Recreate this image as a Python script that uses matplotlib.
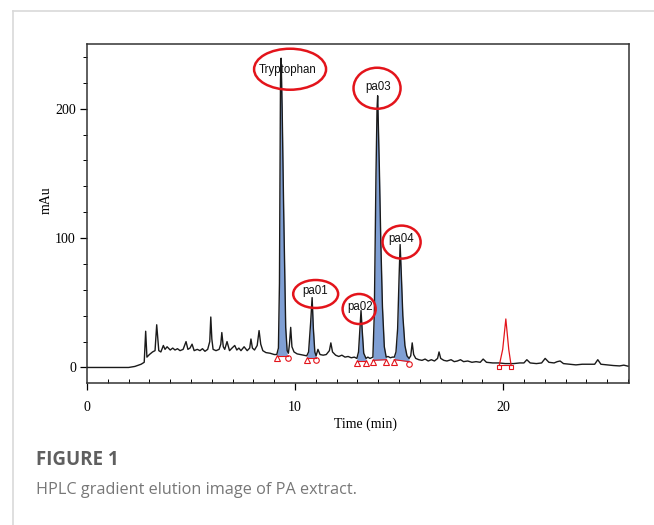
import matplotlib
matplotlib.use("Agg")
import matplotlib.pyplot as plt
from matplotlib.patches import Ellipse
from matplotlib.lines import Line2D
from matplotlib.ticker import MultipleLocator
import numpy as np

# chromatogram trace: (time min, mAu)
trace = [
    (0.0, 0), (2.0, 0), (2.3, 0.8), (2.6, 2.5), (2.75, 4), (2.82, 28), (2.88, 8),
    (3.0, 10), (3.15, 12), (3.27, 13), (3.35, 33), (3.45, 13), (3.55, 12), (3.67, 17),
    (3.75, 14), (3.85, 16), (4.0, 13.5), (4.12, 15), (4.23, 13.5), (4.35, 14.5),
    (4.47, 13), (4.62, 14), (4.76, 20), (4.85, 14), (4.95, 15), (5.05, 18), (5.15, 13),
    (5.3, 14), (5.43, 13), (5.55, 14.5), (5.67, 12.5), (5.8, 14), (5.9, 20), (5.95, 39),
    (6.0, 22), (6.06, 14), (6.2, 13), (6.35, 14), (6.43, 18), (6.48, 27), (6.55, 16),
    (6.62, 14), (6.73, 20), (6.85, 13), (6.97, 15), (7.1, 17), (7.2, 13.5), (7.3, 15),
    (7.4, 13), (7.55, 16), (7.7, 13), (7.82, 15), (7.88, 22), (7.95, 15), (8.05, 13.5),
    (8.18, 17), (8.27, 28.5), (8.35, 18), (8.45, 13), (8.6, 11.5), (8.8, 11), (9.0, 10),
    (9.12, 10), (9.2, 15), (9.25, 65), (9.3, 222), (9.33, 239), (9.38, 200), (9.45, 124),
    (9.55, 31), (9.62, 13), (9.68, 11), (9.73, 18), (9.79, 31), (9.85, 16), (9.95, 12),
    (10.1, 10.5), (10.25, 10), (10.4, 9.5), (10.56, 9), (10.65, 12), (10.75, 35),
    (10.82, 54), (10.88, 30), (10.95, 12), (11.01, 9), (11.1, 14), (11.2, 10),
    (11.35, 9.5), (11.5, 10), (11.65, 13), (11.72, 19), (11.8, 12), (11.95, 9.5),
    (12.1, 8.5), (12.25, 9.5), (12.4, 8), (12.55, 8.5), (12.7, 7.5), (12.85, 8),
    (12.97, 7), (13.05, 12), (13.12, 30), (13.17, 44), (13.23, 28), (13.3, 11),
    (13.41, 7), (13.5, 8), (13.6, 7), (13.74, 8), (13.81, 42), (13.89, 150),
    (13.94, 200), (13.97, 210), (14.05, 155), (14.12, 98), (14.2, 47), (14.29, 16),
    (14.38, 8), (14.47, 8.5), (14.58, 7.5), (14.68, 8), (14.77, 8), (14.85, 12),
    (14.93, 30), (15.0, 70), (15.05, 95), (15.1, 75), (15.18, 40), (15.28, 17),
    (15.38, 9), (15.48, 7), (15.56, 9), (15.63, 19), (15.7, 10), (15.8, 7), (15.95, 6),
    (16.1, 5.5), (16.25, 6.5), (16.4, 5), (16.55, 6), (16.7, 5), (16.85, 7), (16.92, 12),
    (17.0, 7), (17.15, 5.5), (17.3, 5), (17.5, 6), (17.65, 4.5), (17.8, 5), (17.95, 6),
    (18.1, 4.5), (18.3, 5), (18.5, 4), (18.7, 4.5), (18.9, 4), (19.04, 6.5), (19.2, 4),
    (19.5, 3.5), (19.8, 3.5), (20.1, 3), (20.5, 3), (20.8, 3.5), (21.0, 3.5),
    (21.14, 6), (21.3, 3.5), (21.6, 3), (21.85, 3.5), (22.02, 7), (22.2, 4),
    (22.45, 3.5), (22.6, 4.5), (22.74, 5), (22.9, 3), (23.2, 2.5), (23.5, 2),
    (23.8, 2.5), (24.1, 2.5), (24.4, 2.5), (24.55, 6), (24.7, 2.5), (25.0, 2),
    (25.3, 1.5), (25.6, 1.2), (25.8, 1.8), (26.0, 1),
]

# red (not integrated) peak
red_peak = [(19.82, 2), (19.98, 14), (20.13, 37.5), (20.27, 14), (20.38, 2)]

# integrated peaks: start, end, base at start, base at end, end marker
peak_names = ["Tryptophan", "pa01", "pa02", "pa03", "pa04"]
peak_start = [9.12, 10.56, 12.97, 13.74, 14.77]
peak_end = [9.66, 11.01, 13.41, 14.38, 15.48]
base_start = [9.0, 7.0, 5.0, 5.5, 6.0]
base_end = [9.0, 7.0, 5.0, 6.0, 4.5]
end_marker = ["o", "o", "^", "^", "o"]

# label ellipses: centre, width, height, text position
ell_center = [(9.76, 230.5), (10.99, 56.8), (13.08, 45.2), (13.94, 215.8), (15.12, 96.9)]
ell_size = [(3.46, 31.7), (2.16, 21.6), (1.59, 23.2), (2.26, 31.7), (1.83, 25.5)]
label_pos = [(9.66, 229.7), (10.96, 59.3), (13.13, 47.0), (13.99, 216.8), (15.08, 99.2)]

t = np.array([p[0] for p in trace])
s = np.array([p[1] for p in trace])

RED = "#e3141b"
BLUE = "#7f9fd4"

fig = plt.figure(figsize=(6.54, 5.25), dpi=100)
ax = fig.add_axes([87 / 654, 1 - 383 / 525, 542 / 654, 339 / 525])

# blue filled integrated peaks
for i in range(len(peak_names)):
    m = (t >= peak_start[i]) & (t <= peak_end[i])
    base = np.interp(t[m], [peak_start[i], peak_end[i]], [base_start[i], base_end[i]])
    ax.fill_between(t[m], base, s[m], color=BLUE, lw=0, zorder=1)
    ax.plot([peak_start[i], peak_end[i]], [base_start[i], base_end[i]],
            color=RED, lw=0.8, zorder=2)
    ax.plot(peak_start[i], base_start[i] - 1.5, marker="^", ms=4, mfc="none",
            mec=RED, mew=0.8, zorder=4)
    ax.plot(peak_end[i], base_end[i] - 1.5, marker=end_marker[i], ms=4, mfc="none",
            mec=RED, mew=0.8, zorder=4)

ax.plot(t, s, color="#1a1a1a", lw=1.0, zorder=3)

rt = [p[0] for p in red_peak]
rs = [p[1] for p in red_peak]
ax.plot(rt, rs, color=RED, lw=0.9, zorder=4)
ax.plot([rt[0], rt[-1]], [rs[0], rs[-1]], color=RED, lw=0.8, zorder=4)
ax.plot([rt[0], rt[-1]], [rs[0] - 1.5, rs[-1] - 1.5], ls="none", marker="s", ms=3.5,
        mfc="none", mec=RED, mew=0.8, zorder=5)

for i, name in enumerate(peak_names):
    ax.add_patch(Ellipse(ell_center[i], ell_size[i][0], ell_size[i][1], fill=False,
                         ec=RED, lw=1.8, zorder=6, clip_on=False))
    ax.text(label_pos[i][0], label_pos[i][1], name, ha="center", va="center",
            fontsize=8.3, family="Liberation Sans", color="#111111", zorder=7)

ax.set_xlim(0, 26.05)
ax.set_ylim(-12, 250)
ax.set_xticks([0, 10, 20])
ax.set_yticks([0, 100, 200])
ax.xaxis.set_minor_locator(MultipleLocator(1))
ax.yaxis.set_minor_locator(MultipleLocator(20))
ax.tick_params(axis="x", which="major", direction="out", length=5, width=0.9, pad=8)
ax.tick_params(axis="x", which="minor", direction="in", length=3, width=0.7)
ax.tick_params(axis="y", which="major", direction="out", length=5, width=0.9, pad=3)
ax.tick_params(axis="y", which="minor", direction="out", length=3, width=0.7)
for lab in ax.get_xticklabels() + ax.get_yticklabels():
    lab.set_family("Liberation Serif")
    lab.set_fontsize(10)
    lab.set_color("#000000")
for sp in ax.spines.values():
    sp.set_color("#333333")
    sp.set_linewidth(1.1)

fig.text(46 / 654, 1 - 200 / 525, "mAu", rotation=90, ha="center", va="center",
         family="Liberation Serif", fontsize=10, color="#000000")
fig.text(366 / 654, 1 - 424 / 525, "Time (min)", ha="center", va="center",
         family="Liberation Serif", fontsize=10, color="#000000")

# card frame around the figure
fig.add_artist(Line2D([13 / 654, 1], [1 - 11 / 525, 1 - 11 / 525], color="#d9d9d9", lw=1.2))
fig.add_artist(Line2D([13 / 654, 13 / 654], [0, 1 - 11 / 525], color="#d9d9d9", lw=1.2))

fig.text(36 / 654, 1 - 460 / 525, "FIGURE 1", ha="left", va="center",
         family="Open Sans", fontweight="bold", fontsize=13.5, color="#5f5f5f")
fig.text(36 / 654, 1 - 490 / 525, "HPLC gradient elution image of PA extract.",
         ha="left", va="center", family="Open Sans", fontsize=11.7, color="#777777")

fig.savefig("out.png", dpi=100)
